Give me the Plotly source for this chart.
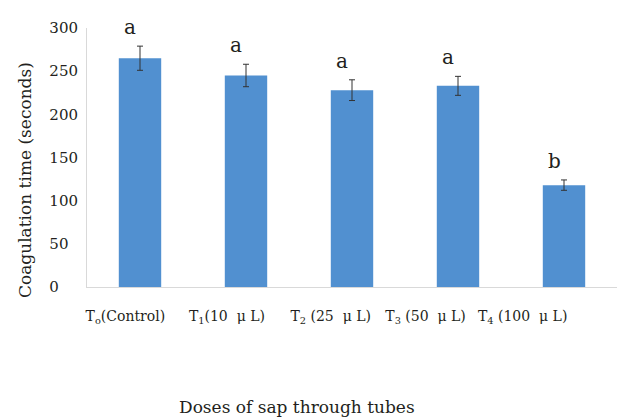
import plotly.graph_objects as go

categories = ["T0", "T1", "T2", "T3", "T4"]
tick_labels = [
    "T<sub>o</sub>(Control)",
    "T<sub>1</sub>(10\u00a0\u00a0μ\u00a0L)",
    "T<sub>2</sub>\u00a0(25\u00a0\u00a0μ\u00a0L)",
    "T<sub>3</sub>\u00a0(50\u00a0\u00a0μ\u00a0L)",
    "T<sub>4</sub>\u00a0(100\u00a0\u00a0μ\u00a0L)",
]
values = [265, 245, 228, 233, 118]
errors = [14, 13, 12, 11, 6]
letters = ["a", "a", "a", "a", "b"]
y_ticks = [0, 50, 100, 150, 200, 250, 300]

FONT = "DejaVu Serif"
TXT = "#231f20"

# leading / trailing padding (layout only) to place labels as in the reference
lead_pad = [6, 4, 3, 0, 0]
trail_pad = [0, 0, 0, 2, 6]
ticktext = ["\u00a0" * a + t + "\u00a0" * b
            for t, a, b in zip(tick_labels, lead_pad, trail_pad)]

fig = go.Figure()
fig.add_trace(go.Bar(
    x=categories, y=values,
    marker=dict(color="#5190D0", line=dict(width=0)),
    error_y=dict(type="data", array=errors, visible=True,
                 color="#333333", thickness=1, width=3),
    width=0.4,
))

for c, v, e, l in zip(categories, values, errors, letters):
    fig.add_annotation(x=c, y=v + e, text=l, showarrow=False,
                       xref="x", yref="y", yanchor="bottom", yshift=5, xshift=-10,
                       font=dict(family=FONT, size=20, color=TXT))

fig.add_annotation(text="Doses of sap through tubes", showarrow=False,
                   xref="paper", yref="paper", x=0.396, y=-0.463,
                   xanchor="center", yanchor="middle",
                   font=dict(size=17, family=FONT, color=TXT))
fig.add_annotation(text="Coagulation time (seconds)", showarrow=False,
                   xref="paper", yref="paper", x=-0.117, y=0.413,
                   xanchor="center", yanchor="middle", textangle=-90,
                   font=dict(size=17, family=FONT, color=TXT))

# page body has an 8px margin, so the figure is drawn 8px in from the corner
fig.update_layout(
    width=632, height=411,
    margin=dict(l=79, r=23, t=20, b=132),
    plot_bgcolor="white", paper_bgcolor="white",
    showlegend=False,
    font=dict(family=FONT, color=TXT),
    xaxis=dict(
        tickvals=categories, ticktext=ticktext, automargin=False,
        tickangle=0,
        showline=True, linecolor="#d9d9d9", linewidth=1,
        showgrid=False, ticks="", tickfont=dict(size=14, family=FONT, color=TXT),
        ticklabelshift=-28, ticklabelstandoff=16,
    ),
    yaxis=dict(
        range=[0, 300], tickvals=y_ticks, automargin=False,
        ticktext=[str(t).ljust(3, "\u2007") for t in y_ticks],
        showline=True, linecolor="#d9d9d9", linewidth=1,
        showgrid=False, ticks="", tickfont=dict(size=15, family=FONT, color=TXT),
        ticklabelstandoff=5,
    ),
)

fig.write_html("out.html")
